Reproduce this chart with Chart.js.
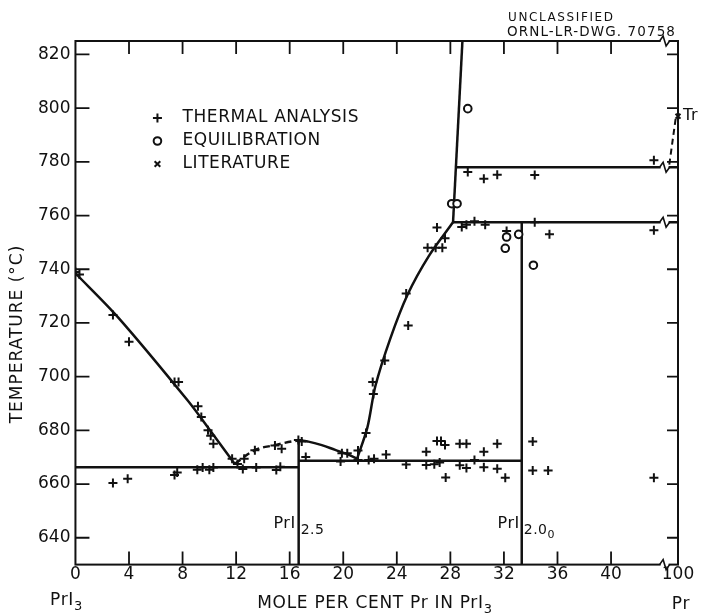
<!DOCTYPE html>
<html>
<head>
<meta charset="utf-8">
<script src="https://cdn.jsdelivr.net/npm/chart.js@4.4.0/dist/chart.umd.min.js"></script>
<style>
  html, body { margin: 0; padding: 0; background: #fff; }
  #wrap { width: 701px; height: 615px; }
</style>
</head>
<body>
<div id="wrap"><canvas id="phaseChart" width="701" height="615"></canvas></div>
<script>
// x axis is broken after 44: the position 45 stands for 100 mole % Pr
const xTicks = [0, 4, 8, 12, 16, 20, 24, 28, 32, 36, 40, 45];
const xTickLabels = ['0', '4', '8', '12', '16', '20', '24', '28', '32', '36', '40', '100'];
const yTicks = [640, 660, 680, 700, 720, 740, 760, 780, 800, 820];
const xBreak = 44;

// thermal analysis (+)
const thermalX = [0, 0.3, 2.8, 4.0, 7.4, 7.7, 9.15, 9.4, 9.9, 10.1, 10.3,
  11.7, 12.1, 12.6, 13.4, 14.9, 15.4, 16.65, 16.9, 17.2, 19.9, 20.3, 19.8,
  2.8, 3.9, 7.4, 7.6, 9.1, 9.5, 10.0, 10.3, 12.5, 13.5, 15.0, 15.3,
  21.7, 21.1, 21.1, 21.9, 22.3, 23.2, 24.7, 26.2, 26.2, 26.8, 27.0, 27.3, 27.2, 27.6, 27.65,
  28.7, 29.2, 28.7, 29.2, 29.8, 30.5, 30.5, 31.5, 31.5, 32.1, 34.15, 34.15, 35.3, 43.2,
  22.2, 22.25, 23.1, 24.7, 24.85, 26.3, 26.9, 27.4, 27.0, 27.6,
  28.85, 29.2, 29.8, 30.6, 32.2, 34.3, 35.4, 43.2, 29.3, 30.5, 31.5, 34.3, 43.2];
const thermalY = [739, 738, 723, 713, 698, 698, 689, 685, 680, 678, 675,
  669.4, 667.5, 669.4, 672.6, 674.4, 673.1, 676.4, 675.8, 670.1, 671.5, 671.5, 668.4,
  660.4, 662, 663.4, 664.3, 665.3, 666.2, 665.3, 666.2, 665.6, 666.2, 665.2, 666.4,
  679, 672.5, 669, 669, 669.4, 671, 667.3, 672, 667.1, 667.4, 676, 676, 668, 674.5, 662.4,
  675, 675, 667, 666, 669, 672, 666.3, 675, 665.7, 662.3, 675.8, 665, 665, 662.3,
  698, 693.5, 706, 731, 719, 748, 748, 748, 755.5, 751.5,
  755.7, 756.6, 757.9, 756.6, 754.2, 757.5, 753, 754.5, 776.2, 773.7, 775.2, 775.1, 780.6];

// equilibration (o)
const equilX = [28.1, 28.5, 29.3, 32.2, 33.1, 32.1, 34.2];
const equilY = [764.4, 764.4, 799.8, 752, 753, 747.8, 741.5];

// literature (x)
const litX = [45];
const litY = [797];

// phase boundaries
const leftLiqX = [0, 3.2, 8.4, 10.2, 11.9];
const leftLiqY = [738.5, 722, 691, 679, 667.5];
const domeX = [11.9, 13.4, 14.9, 16.65, 17.4, 18.4, 19.4, 20.2, 21.0];
const domeY = [667.5, 672.6, 674.5, 676.2, 675.8, 674.5, 672.7, 671.3, 669.5];
const rightLiqX = [21.0, 21.8, 22.4, 23.5, 24.8, 26.4, 28.2];
const rightLiqY = [669, 681, 696.5, 714, 730.5, 745, 757.5];
const steepX = [28.2, 28.9];
const steepY = [757.5, 825];
const plateau757X = [28.2, 45];
const plateau757Y = [757.5, 757.5];
const plateau778X = [28.45, 45];
const plateau778Y = [778, 778];
const solidusLeftX = [0, 16.67];
const solidusLeftY = [666.3, 666.3];
const solidusRightX = [16.67, 33.33];
const solidusRightY = [668.7, 668.7];
const pri25X = [16.67, 16.67];
const pri25Y = [630, 676];
const pri20X = [33.33, 33.33];
const pri20Y = [630, 757.5];
const litLineX = [44.35, 44.85];
const litLineY = [779, 797];

const FONT = '"DejaVu Sans", sans-serif';
const pts = (xs, ys) => xs.map((x, i) => ({ x: x, y: ys[i] }));

function lineSet(xs, ys, extra) {
  return Object.assign({
    type: 'line',
    data: pts(xs, ys),
    borderColor: '#111',
    borderWidth: 2.5,
    pointRadius: 0,
    fill: false,
    tension: 0,
    order: 2
  }, extra || {});
}

function drawRich(ctx, parts, x, y, align) {
  let total = 0;
  parts.forEach(p => { ctx.font = p.size + 'px ' + FONT; total += ctx.measureText(p.text).width; });
  let cx = align === 'right' ? x - total : align === 'center' ? x - total / 2 : x;
  parts.forEach(p => {
    ctx.font = p.size + 'px ' + FONT;
    ctx.fillText(p.text, cx, y + (p.dy || 0));
    cx += ctx.measureText(p.text).width;
  });
}

const decor = {
  id: 'decor',
  beforeDraw(chart) {
    const ctx = chart.ctx;
    ctx.save();
    ctx.fillStyle = '#fff';
    ctx.fillRect(0, 0, chart.width, chart.height);
    ctx.restore();
  },
  afterDatasetsDraw(chart) {
    const ctx = chart.ctx;
    const a = chart.chartArea;
    const xs = chart.scales.x, ys = chart.scales.y;
    ctx.save();
    ctx.strokeStyle = '#111';
    ctx.fillStyle = '#111';
    ctx.lineCap = 'butt';

    // frame
    ctx.lineWidth = 2;
    ctx.strokeRect(a.left, a.top, a.right - a.left, a.bottom - a.top);

    // inward ticks
    ctx.lineWidth = 1.8;
    ctx.beginPath();
    xTicks.forEach(v => {
      if (v === 0 || v === 45) return;
      const px = xs.getPixelForValue(v);
      ctx.moveTo(px, a.bottom); ctx.lineTo(px, a.bottom - 13);
      ctx.moveTo(px, a.top); ctx.lineTo(px, a.top + 13);
    });
    yTicks.forEach(v => {
      const py = ys.getPixelForValue(v);
      ctx.moveTo(a.left, py); ctx.lineTo(a.left + 14, py);
      ctx.moveTo(a.right, py); ctx.lineTo(a.right - 11, py);
    });
    ctx.stroke();

    // axis breaks
    const bx = xs.getPixelForValue(xBreak);
    [825, 630, 757.5, 778].forEach(v => {
      const py = ys.getPixelForValue(v);
      ctx.fillStyle = '#fff';
      ctx.fillRect(bx - 4, py - 2, 8, 4);
      ctx.beginPath();
      ctx.lineWidth = 1.6;
      ctx.moveTo(bx - 5, py);
      ctx.lineTo(bx - 1.5, py - 5);
      ctx.lineTo(bx + 1.5, py + 5);
      ctx.lineTo(bx + 5, py);
      ctx.stroke();
    });
    ctx.fillStyle = '#111';

    // compound labels
    ctx.textBaseline = 'alphabetic';
    const x25 = xs.getPixelForValue(16.67);
    const base = ys.getPixelForValue(643.5);
    ctx.letterSpacing = '0.5px';
    drawRich(ctx, [{ text: 'PrI', size: 16 }], x25 - 3, base, 'right');
    drawRich(ctx, [{ text: '2.5', size: 14, dy: 6 }], x25 + 2, base, 'left');
    const x20 = xs.getPixelForValue(33.33);
    drawRich(ctx, [{ text: 'PrI', size: 16 }], x20 - 2, base, 'right');
    drawRich(ctx, [{ text: '2.0', size: 14, dy: 6 }, { text: '0', size: 11, dy: 10 }], x20 + 2, base, 'left');

    // Tr
    ctx.textBaseline = 'middle';
    ctx.font = '16px ' + FONT;
    ctx.fillText('Tr', xs.getPixelForValue(45) + 5, ys.getPixelForValue(797));

    // legend
    const legend = [
      { style: 'cross', r: 4.5, text: 'THERMAL ANALYSIS' },
      { style: 'circle', r: 3.8, text: 'EQUILIBRATION' },
      { style: 'crossRot', r: 4, text: 'LITERATURE' }
    ];
    ctx.letterSpacing = '0.6px';
    legend.forEach((it, i) => {
      const ly = a.top + 77 + i * 23;
      ctx.lineWidth = 2;
      ctx.strokeStyle = '#111';
      ctx.fillStyle = '#fff';
      Chart.helpers.drawPoint(ctx, { pointStyle: it.style, radius: it.r, borderWidth: 2 }, a.left + 82, ly);
      ctx.fillStyle = '#111';
      ctx.font = '17px ' + FONT;
      ctx.textBaseline = 'middle';
      ctx.fillText(it.text, a.left + 107, ly);
    });

    // axis titles and end labels
    ctx.textBaseline = 'alphabetic';
    ctx.letterSpacing = '0.7px';
    drawRich(ctx, [{ text: 'MOLE PER CENT Pr IN PrI', size: 17 }, { text: '3', size: 13, dy: 5 }], 375, 608, 'center');
    drawRich(ctx, [{ text: 'PrI', size: 17 }, { text: '3', size: 13, dy: 5 }], 50, 605, 'left');
    drawRich(ctx, [{ text: 'Pr', size: 17 }], xs.getPixelForValue(45) + 3, 609, 'center');

    ctx.save();
    ctx.translate(22, 334);
    ctx.rotate(-Math.PI / 2);
    ctx.letterSpacing = '1px';
    drawRich(ctx, [{ text: 'TEMPERATURE (°C)', size: 17 }], 0, 0, 'center');
    ctx.restore();

    // drawing number
    ctx.letterSpacing = '1.6px';
    drawRich(ctx, [{ text: 'UNCLASSIFIED', size: 12 }], 508, 21, 'left');
    ctx.letterSpacing = '1.1px';
    drawRich(ctx, [{ text: 'ORNL-LR-DWG. 70758', size: 13.5 }], 507, 36, 'left');
    ctx.restore();
  }
};

new Chart(document.getElementById('phaseChart'), {
  type: 'scatter',
  data: {
    datasets: [
      {
        label: 'THERMAL ANALYSIS',
        data: pts(thermalX, thermalY),
        pointStyle: 'cross',
        pointRadius: 4.5,
        borderWidth: 2,
        borderColor: '#111',
        order: 1
      },
      {
        label: 'EQUILIBRATION',
        data: pts(equilX, equilY),
        pointStyle: 'circle',
        pointRadius: 3.8,
        borderWidth: 2,
        borderColor: '#111',
        backgroundColor: '#fff',
        order: 0
      },
      {
        label: 'LITERATURE',
        data: pts(litX, litY),
        pointStyle: 'crossRot',
        pointRadius: 3.5,
        borderWidth: 2,
        borderColor: '#111',
        clip: false,
        order: 0
      },
      lineSet(leftLiqX, leftLiqY, { tension: 0.3 }),
      lineSet(domeX, domeY, {
        tension: 0.4,
        segment: { borderDash: c => c.p0.parsed.x < 16.6 ? [7, 4] : undefined }
      }),
      lineSet(rightLiqX, rightLiqY, { tension: 0.3 }),
      lineSet(steepX, steepY),
      lineSet(plateau757X, plateau757Y),
      lineSet(plateau778X, plateau778Y),
      lineSet(solidusLeftX, solidusLeftY),
      lineSet(solidusRightX, solidusRightY),
      lineSet(pri25X, pri25Y),
      lineSet(pri20X, pri20Y),
      lineSet(litLineX, litLineY, { borderDash: [6, 4], borderWidth: 2 })
    ]
  },
  options: {
    responsive: false,
    devicePixelRatio: 1,
    animation: false,
    layout: { padding: { left: 33, right: 23, top: 41, bottom: 30 } },
    plugins: { legend: { display: false }, tooltip: { enabled: false } },
    scales: {
      x: {
        type: 'linear',
        min: 0,
        max: 45,
        afterBuildTicks: s => { s.ticks = xTicks.map(v => ({ value: v })); },
        ticks: {
          autoSkip: false,
          maxRotation: 0,
          padding: 0,
          color: '#111',
          font: { family: FONT, size: 17 },
          callback: (v) => xTickLabels[xTicks.indexOf(v)]
        },
        grid: { display: false, drawTicks: false },
        border: { display: false }
      },
      y: {
        type: 'linear',
        min: 630,
        max: 825,
        afterBuildTicks: s => { s.ticks = yTicks.map(v => ({ value: v })); },
        ticks: {
          padding: 5,
          color: '#111',
          font: { family: FONT, size: 17 }
        },
        grid: { display: false, drawTicks: false },
        border: { display: false }
      }
    }
  },
  plugins: [decor]
});
</script>
</body>
</html>
